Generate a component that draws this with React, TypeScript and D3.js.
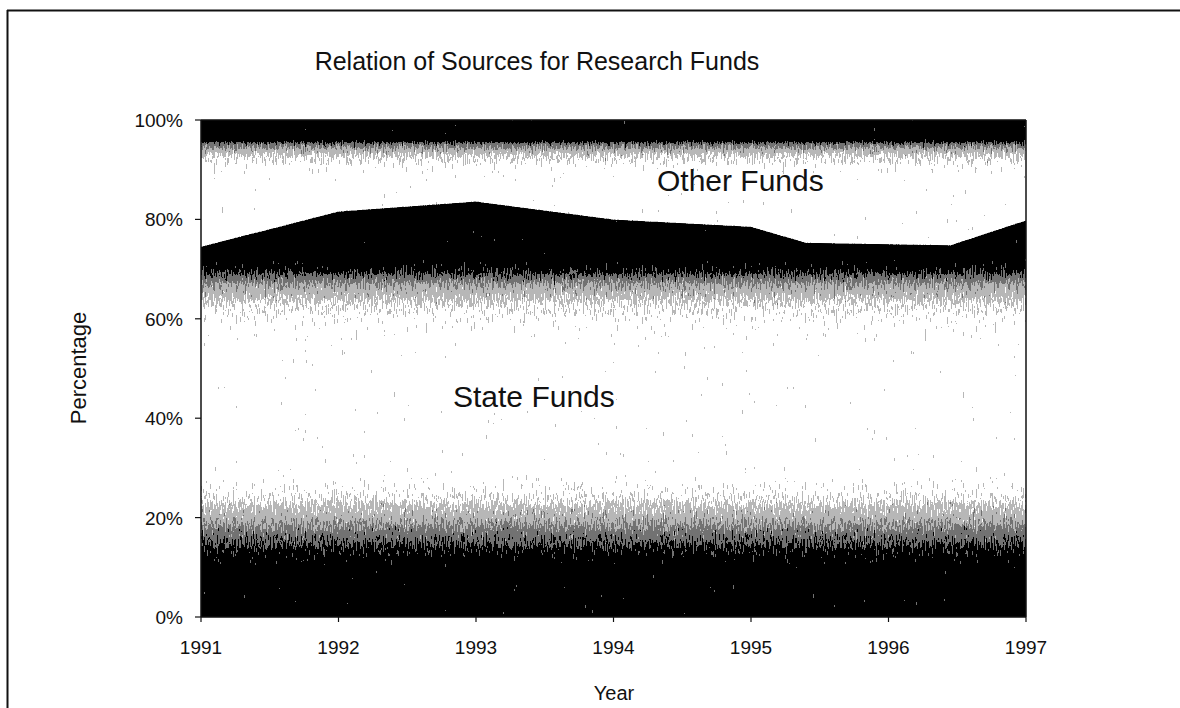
import React from "react";
import * as d3 from "d3";

const years = [1991, 1992, 1993, 1994, 1995, 1995.4, 1996.45, 1997];
const stateFunds = [74.5, 81.6, 83.6, 80.0, 78.5, 75.3, 74.8, 79.8];
const otherFunds = stateFunds.map((v) => 100 - v);
const xTicks = [1991, 1992, 1993, 1994, 1995, 1996, 1997];
const yTicks = [0, 20, 40, 60, 80, 100];

const W = 1180;
const H = 708;
const M = { left: 201, right: 1026, top: 120, bottom: 617 };
const FONT = "'Liberation Sans', Arial, Helvetica, sans-serif";

export default function App() {
  const x = d3.scaleLinear().domain([1991, 1997]).range([M.left, M.right]);
  const y = d3.scaleLinear().domain([0, 100]).range([M.bottom, M.top]);

  const rows = years.map((yr, i) => ({ year: yr, state: stateFunds[i], other: otherFunds[i] }));
  const stack = d3.stack<any>().keys(["state", "other"])(rows);
  const area = d3
    .area<any>()
    .x((d) => x(d.data.year))
    .y0((d) => y(d[0]))
    .y1((d) => y(d[1]));

  const stateStops: [number, string][] = [
    [0, "#000"],
    [0.1, "#000"],
    [0.13, "#262626"],
    [0.16, "#555"],
    [0.2, "#999"],
    [0.24, "#cfcfcf"],
    [0.28, "#f2f2f2"],
    [0.31, "#fff"],
    [0.54, "#fff"],
    [0.58, "#f0f0f0"],
    [0.63, "#c8c8c8"],
    [0.67, "#858585"],
    [0.695, "#303030"],
    [0.72, "#000"],
    [1, "#000"],
  ];
  const otherStops: [number, string][] = [
    [0, "#fff"],
    [0.87, "#fff"],
    [0.9, "#f0f0f0"],
    [0.93, "#bcbcbc"],
    [0.95, "#666"],
    [0.962, "#000"],
    [1, "#000"],
  ];

  return (
    <svg width={W} height={H} style={{ position: "absolute", left: 0, top: 0, background: "#fff" }}>
      <defs>
        <linearGradient id="gState" gradientUnits="userSpaceOnUse" x1={0} x2={0} y1={y(0)} y2={y(100)}>
          {stateStops.map(([o, c], i) => (
            <stop key={i} offset={o} stopColor={c} />
          ))}
        </linearGradient>
        <linearGradient id="gOther" gradientUnits="userSpaceOnUse" x1={0} x2={0} y1={y(0)} y2={y(100)}>
          {otherStops.map(([o, c], i) => (
            <stop key={i} offset={o} stopColor={c} />
          ))}
        </linearGradient>
        <filter
          id="dither"
          filterUnits="userSpaceOnUse"
          x={0}
          y={0}
          width={W}
          height={H}
          colorInterpolationFilters="sRGB"
        >
          <feTurbulence type="fractalNoise" baseFrequency="0.9 0.12" numOctaves={2} seed={7} result="noise" />
          <feColorMatrix
            in="noise"
            type="matrix"
            values="0.33 0.33 0.33 0 0  0.33 0.33 0.33 0 0  0.33 0.33 0.33 0 0  0 0 0 0 1"
            result="grey"
          />
          <feComposite in="SourceGraphic" in2="grey" operator="arithmetic" k1={0} k2={1} k3={1.3} k4={-0.65} result="mix" />
          <feComponentTransfer in="mix" result="quant">
            <feFuncR type="discrete" tableValues="0 0.45 0.72 1" />
            <feFuncG type="discrete" tableValues="0 0.45 0.72 1" />
            <feFuncB type="discrete" tableValues="0 0.45 0.72 1" />
          </feComponentTransfer>
          <feComposite in="quant" in2="SourceGraphic" operator="in" />
        </filter>
      </defs>
      <rect x={0} y={0} width={W} height={H} fill="#fff" />
      {/* outer frame */}
      <line x1={7} x2={W} y1={10.5} y2={10.5} stroke="#111" strokeWidth={2} />
      <line x1={7.5} x2={7.5} y1={10} y2={H} stroke="#111" strokeWidth={2} />

      <text x={537} y={70} textAnchor="middle" fontFamily={FONT} fontSize={25} fill="#111">
        Relation of Sources for Research Funds
      </text>

      <g filter="url(#dither)">
        {stack.map((s, i) => (
          <path key={s.key} d={area(s as any) || ""} fill={i === 0 ? "url(#gState)" : "url(#gOther)"} />
        ))}
      </g>

      {/* plot border */}
      <line x1={M.right} x2={M.right} y1={M.top} y2={M.bottom} stroke="#111" strokeWidth={1.5} />
      <line x1={M.left} x2={M.right} y1={M.top} y2={M.top} stroke="#111" strokeWidth={1.5} />

      {/* y axis */}
      <line x1={M.left} x2={M.left} y1={M.top} y2={M.bottom} stroke="#111" strokeWidth={1.5} />
      {yTicks.map((t) => (
        <g key={t}>
          <line x1={M.left - 6} x2={M.left} y1={y(t)} y2={y(t)} stroke="#111" strokeWidth={1.2} />
          <text x={183} y={y(t) + 7} textAnchor="end" fontFamily={FONT} fontSize={19} fill="#111">
            {t}%
          </text>
        </g>
      ))}

      {/* x axis */}
      <line x1={M.left} x2={M.right} y1={M.bottom} y2={M.bottom} stroke="#111" strokeWidth={1.5} />
      {xTicks.map((t) => (
        <g key={t}>
          <line x1={x(t)} x2={x(t)} y1={M.bottom} y2={M.bottom + 5} stroke="#111" strokeWidth={1.2} />
          <text x={x(t)} y={654} textAnchor="middle" fontFamily={FONT} fontSize={19} fill="#111">
            {t}
          </text>
        </g>
      ))}

      <text x={614} y={700} textAnchor="middle" fontFamily={FONT} fontSize={20} fill="#111">
        Year
      </text>
      <text
        transform="translate(86,368) rotate(-90)"
        textAnchor="middle"
        fontFamily={FONT}
        fontSize={22}
        fill="#111"
      >
        Percentage
      </text>

      <text x={657} y={191} fontFamily={FONT} fontSize={30} fill="#111">
        Other Funds
      </text>
      <text x={453} y={407} fontFamily={FONT} fontSize={30} fill="#111">
        State Funds
      </text>
    </svg>
  );
}
